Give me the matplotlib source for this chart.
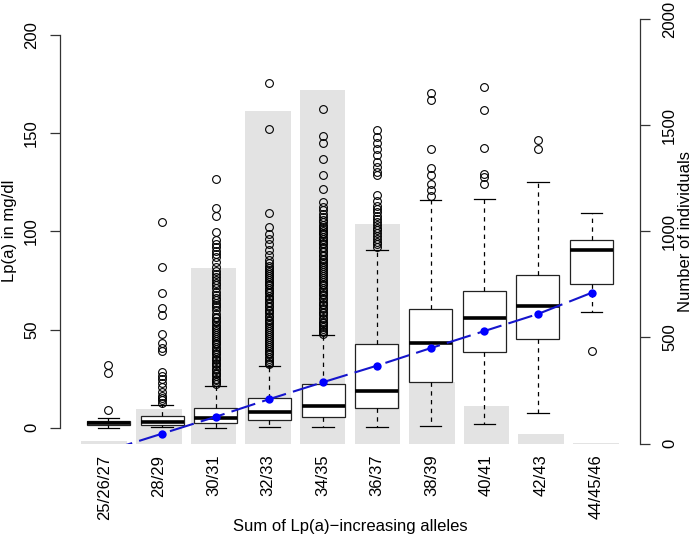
import matplotlib
matplotlib.use("Agg")
import matplotlib.pyplot as plt

plt.rcParams['font.family'] = ['Liberation Sans', 'DejaVu Sans']

# ---------------- data ----------------
categories = ["25/26/27", "28/29", "30/31", "32/33", "34/35",
              "36/37", "38/39", "40/41", "42/43", "44/45/46"]

# number of individuals per group (right axis, grey bars)
counts = [11, 163, 826, 1566, 1664, 1035, 290, 175, 46, 4]

# box statistics for Lp(a) in mg/dl (left axis)
whisker_low = [0.0, 0.3, 0.0, 0.4, 0.4, 0.4, 1.0, 2.0, 7.6, 59.0]
quart1      = [1.2, 1.5, 2.5, 4.1, 5.7, 10.3, 23.2, 38.4, 45.2, 73.4]
medians     = [2.4, 2.9, 4.9, 7.8, 11.3, 18.9, 43.3, 55.7, 61.9, 90.7]
quart3      = [3.4, 5.9, 10.2, 15.1, 22.2, 42.5, 60.4, 69.7, 77.7, 95.4]
whisker_high = [5.2, 11.8, 21.5, 31.6, 47.0, 90.7, 115.9, 116.6, 125.2, 109.3]

fliers_g1 = [9.1, 28.1, 32.0]
fliers_g2 = [12.8, 14.2, 15.4, 16.3, 18.4, 21.0, 22.7, 24.7, 26.4, 28.6,
             39.1, 40.6, 43.0, 47.6, 57.4, 60.8, 68.4, 81.6, 104.9]
fliers_g3 = [22.3, 23.1, 24.2, 25.0, 26.1, 27.3, 28.0, 29.2, 30.1, 31.4,
             32.2, 33.0, 34.3, 35.1, 36.2, 37.4, 38.1, 39.3, 40.0, 41.2,
             42.4, 43.1, 44.3, 45.0, 46.2, 47.1, 48.3, 49.2, 50.4, 51.1,
             52.3, 53.6, 54.4, 55.7, 56.5, 57.8, 60.1, 61.3, 62.6, 63.4,
             64.9, 66.2, 67.8, 69.3, 71.0, 72.4, 73.6, 75.1, 76.8, 78.2,
             79.7, 81.9, 84.4, 86.9, 88.6, 90.2, 92.1, 93.6, 95.4, 99.6,
             107.8, 112.0, 126.5]
fliers_g4 = [32.2, 33.1, 34.0, 35.2, 36.1, 37.3, 38.0, 39.2, 40.1, 41.3,
             42.2, 43.0, 44.4, 45.1, 46.3, 47.2, 48.0, 49.3, 50.2, 51.4,
             52.1, 53.3, 54.2, 55.0, 56.4, 57.1, 58.3, 59.2, 60.0, 61.3,
             62.2, 63.4, 64.1, 65.3, 66.0, 67.2, 68.4, 69.1, 70.3, 71.2,
             72.4, 73.1, 74.3, 75.2, 76.0, 77.3, 78.1, 79.4, 80.2, 81.5,
             82.3, 83.6, 85.3, 87.9, 90.4, 93.7, 96.2, 98.8, 102.2, 109.5,
             151.8, 175.6]
fliers_g5 = [47.6, 48.5, 49.3, 50.2, 51.4, 52.1, 53.3, 54.0, 55.2, 56.1,
             57.3, 58.2, 59.0, 60.4, 61.1, 62.3, 63.2, 64.0, 65.3, 66.1,
             67.4, 68.2, 69.0, 70.3, 71.1, 72.4, 73.2, 74.1, 75.3, 76.2,
             77.0, 78.4, 79.1, 80.3, 81.2, 82.4, 83.1, 84.3, 85.2, 86.0,
             87.3, 88.1, 89.4, 90.2, 91.3, 92.1, 93.4, 94.2, 95.0, 96.3,
             97.1, 98.4, 99.2, 100.3, 101.1, 102.4, 103.2, 104.5, 105.6, 107.0,
             109.0, 110.6, 112.4, 114.9, 121.7, 128.8, 136.9, 145.0, 148.4, 162.3]
fliers_g6 = [92.0, 93.4, 94.6, 96.1, 97.5, 98.9, 100.4, 101.8, 103.2, 104.7,
             106.3, 108.0, 109.6, 111.2, 113.1, 115.4, 118.3,
             128.4, 130.1, 132.6, 135.2, 138.6, 141.6, 145.0, 148.2, 151.6]
fliers_g7 = [117.8, 120.8, 124.2, 128.4, 132.1, 142.0, 166.8, 170.2]
fliers_g8 = [123.9, 127.6, 128.9, 142.6, 161.6, 173.6]
fliers_g9 = [141.6, 146.5]
fliers_g10 = [39.2]
fliers = [fliers_g1, fliers_g2, fliers_g3, fliers_g4, fliers_g5,
          fliers_g6, fliers_g7, fliers_g8, fliers_g9, fliers_g10]

# blue trend points (left axis units)
trend = [-11.6, -3.0, 5.6, 14.6, 23.2, 31.6, 40.5, 49.2, 57.9, 68.7]

left_ticks = [0, 50, 100, 150, 200]
right_ticks = [0, 500, 1000, 1500, 2000]

# ---------------- figure ----------------
W, H = 697, 539
fig = plt.figure(figsize=(W / 100, H / 100), dpi=100)
rect = [60 / W, 1 - 443.5 / H, 580 / W, (443.5 - 19) / H]
axis_col = '#333333'

# bars (R barplot geometry: width 1, space 0.2)
ax_bar = fig.add_axes(rect)
n = len(categories)
bar_x = [0.7 + 1.2 * i for i in range(n)]
ax_bar.bar(bar_x, counts, width=1.0, color='#e3e3e3', linewidth=0)
ax_bar.set_xlim(-0.272, 12.472)
ax_bar.set_ylim(0, 2000)
for s in ['top', 'bottom', 'left']:
    ax_bar.spines[s].set_visible(False)
ax_bar.spines['right'].set_bounds(0, 2000)
ax_bar.spines['right'].set_color(axis_col)
ax_bar.spines['right'].set_linewidth(0.9)
ax_bar.yaxis.tick_right()
ax_bar.set_yticks(right_ticks)
ax_bar.set_yticklabels([str(t) for t in right_ticks], rotation=90, va='center')
ax_bar.tick_params(axis='y', direction='out', length=7, width=0.9,
                   color=axis_col, pad=9, labelsize=12)
ax_bar.set_xticks(bar_x)
ax_bar.set_xticklabels(categories, rotation=90)
ax_bar.tick_params(axis='x', length=0, pad=8, labelsize=12)

# boxes
ax_box = fig.add_axes(rect, facecolor='none')
positions = list(range(1, n + 1))
stats = []
for i in range(n):
    stats.append(dict(whislo=whisker_low[i], q1=quart1[i], med=medians[i],
                      q3=quart3[i], whishi=whisker_high[i], fliers=fliers[i]))
ax_box.bxp(stats, positions=positions, widths=0.8, capwidths=0.4,
           patch_artist=True, manage_ticks=False,
           boxprops=dict(facecolor='white', edgecolor='#222222', linewidth=0.9),
           medianprops=dict(color='black', linewidth=2.6, solid_capstyle='butt'),
           whiskerprops=dict(color='black', linewidth=0.9, linestyle=(0, (3.5, 3.5))),
           capprops=dict(color='black', linewidth=0.9),
           flierprops=dict(marker='o', markerfacecolor='none',
                           markeredgecolor='black', markersize=5.6,
                           markeredgewidth=0.8))
ax_box.plot(positions, trend, color='#1515cc', linewidth=1.5,
            dashes=(12, 3.5), zorder=5)
ax_box.plot(positions, trend, 'o', color='#0000ff', markersize=6,
            markeredgewidth=0, zorder=6)
ax_box.set_xlim(0.1, 10.9)
ax_box.set_ylim(-8, 208)
for s in ['top', 'bottom', 'right']:
    ax_box.spines[s].set_visible(False)
ax_box.spines['left'].set_bounds(0, 200)
ax_box.spines['left'].set_color(axis_col)
ax_box.spines['left'].set_linewidth(0.9)
ax_box.set_xticks([])
ax_box.set_yticks(left_ticks)
ax_box.set_yticklabels([str(t) for t in left_ticks], rotation=90, va='center')
ax_box.tick_params(axis='y', direction='out', length=7, width=0.9,
                   color=axis_col, pad=8, labelsize=12)

fig.text(10 / W, 1 - 231 / H, 'Lp(a) in mg/dl', rotation=90,
         ha='center', va='center', fontsize=12)
fig.text(685 / W, 1 - 231 / H, 'Number of individuals', rotation=90,
         ha='center', va='center', fontsize=12)
fig.text(350 / W, 1 - 527 / H, 'Sum of Lp(a)\u2212increasing alleles',
         ha='center', va='center', fontsize=12)

fig.savefig('out.png', dpi=100)
